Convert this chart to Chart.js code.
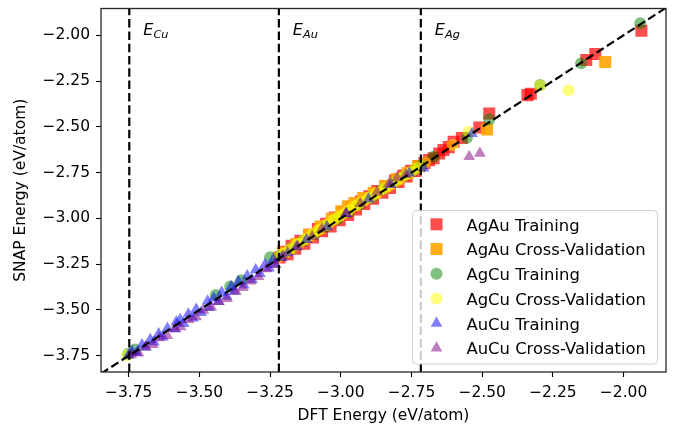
<!DOCTYPE html>
<html>
<head>
<meta charset="utf-8">
<script src="https://cdn.jsdelivr.net/npm/chart.js@4.4.1/dist/chart.umd.min.js"></script>
<style>
html, body { margin: 0; padding: 0; background: #fff; }
#wrap { width: 679px; height: 429px; }
</style>
</head>
<body>
<div id="wrap"><canvas id="myChart" width="679" height="429"></canvas></div>
<script>
// DFT (x) vs SNAP (y) energies, eV/atom
const agauTrainX = [-3.216,-3.203,-3.188,-3.174,-3.161,-3.143,-3.129,-3.112,-3.098,-3.081,-3.066,-3.052,-3.036,-3.021,-3.004,-2.991,-2.974,-2.962,-2.946,-2.929,-2.917,-2.899,-2.886,-2.871,-2.853,-2.842,-2.826,-2.808,-2.796,-2.779,-2.767,-2.752,-2.736,-2.723,-2.704,-2.688,-2.672,-2.652,-2.637,-2.618,-2.601,-2.572,-2.510,-2.475,-2.340,-2.328,-2.132,-2.100,-1.937];
const agauTrainY = [-3.214,-3.182,-3.196,-3.150,-3.166,-3.122,-3.138,-3.090,-3.104,-3.058,-3.070,-3.030,-3.044,-2.996,-3.010,-2.966,-2.982,-2.938,-2.952,-2.908,-2.922,-2.879,-2.893,-2.851,-2.860,-2.824,-2.834,-2.793,-2.802,-2.766,-2.772,-2.740,-2.742,-2.714,-2.698,-2.682,-2.672,-2.646,-2.627,-2.611,-2.582,-2.561,-2.504,-2.428,-2.327,-2.319,-2.135,-2.103,-1.976];

const agauCvX = [-3.205,-3.158,-3.112,-3.071,-3.032,-2.998,-2.975,-2.952,-2.921,-2.884,-2.842,-2.801,-2.763,-2.727,-2.483,-2.065];
const agauCvY = [-3.188,-3.140,-3.090,-3.045,-3.001,-2.961,-2.934,-2.916,-2.889,-2.862,-2.823,-2.785,-2.752,-2.716,-2.515,-2.146];

const agcuTrainX = [-3.752,-3.728,-3.442,-3.391,-3.352,-3.250,-3.212,-3.173,-3.134,-3.092,-3.053,-3.011,-2.972,-2.933,-2.891,-2.853,-2.812,-2.774,-2.741,-2.713,-2.672,-2.554,-2.475,-2.295,-2.150,-1.941];
const agcuTrainY = [-3.741,-3.716,-3.418,-3.372,-3.338,-3.212,-3.201,-3.163,-3.124,-3.086,-3.044,-3.003,-2.966,-2.926,-2.886,-2.843,-2.804,-2.768,-2.737,-2.708,-2.663,-2.560,-2.459,-2.272,-2.153,-1.935];

const agcuCvX = [-3.756,-3.222,-3.207,-3.197,-3.182,-3.172,-3.156,-3.147,-3.131,-3.122,-3.105,-3.095,-3.080,-3.070,-3.054,-3.045,-3.029,-3.019,-3.004,-2.994,-2.979,-2.969,-2.953,-2.943,-2.928,-2.918,-2.902,-2.893,-2.877,-2.867,-2.851,-2.842,-2.826,-2.816,-2.801,-2.791,-2.775,-2.766,-2.750,-2.740,-2.724,-2.702,-2.604,-2.548,-2.295,-2.195];
const agcuCvY = [-3.747,-3.214,-3.196,-3.191,-3.171,-3.163,-3.142,-3.139,-3.118,-3.112,-3.092,-3.081,-3.065,-3.058,-3.036,-3.033,-3.012,-3.004,-2.987,-2.981,-2.962,-2.955,-2.934,-2.930,-2.912,-2.906,-2.889,-2.884,-2.866,-2.859,-2.840,-2.834,-2.817,-2.808,-2.795,-2.783,-2.768,-2.759,-2.745,-2.733,-2.722,-2.695,-2.600,-2.527,-2.274,-2.301];

const aucuTrainX = [-3.751,-3.738,-3.722,-3.703,-3.691,-3.674,-3.661,-3.644,-3.629,-3.613,-3.582,-3.584,-3.568,-3.556,-3.539,-3.523,-3.511,-3.494,-3.471,-3.466,-3.449,-3.433,-3.421,-3.404,-3.388,-3.377,-3.362,-3.343,-3.331,-3.314,-3.301,-3.286,-3.268,-3.254,-3.239,-3.232,-3.209,-3.188,-3.157,-3.121,-3.049,-2.981,-2.902,-2.823,-2.758,-2.707,-2.536];
const aucuTrainY = [-3.748,-3.728,-3.735,-3.690,-3.705,-3.662,-3.676,-3.630,-3.648,-3.600,-3.566,-3.604,-3.552,-3.575,-3.522,-3.545,-3.496,-3.514,-3.452,-3.488,-3.436,-3.455,-3.404,-3.426,-3.372,-3.398,-3.345,-3.365,-3.314,-3.334,-3.281,-3.302,-3.252,-3.272,-3.224,-3.250,-3.214,-3.189,-3.155,-3.116,-3.045,-2.974,-2.895,-2.815,-2.754,-2.726,-2.537];

const aucuCvX = [-3.741,-3.716,-3.689,-3.664,-3.641,-3.614,-3.588,-3.566,-3.538,-3.512,-3.486,-3.458,-3.431,-3.402,-3.371,-3.346,-3.318,-3.291,-3.262,-3.231,-3.203,-3.152,-3.101,-3.067,-2.982,-2.931,-2.872,-2.831,-2.801,-2.771,-2.546,-2.508];
const aucuCvY = [-3.746,-3.735,-3.702,-3.690,-3.652,-3.640,-3.603,-3.592,-3.553,-3.538,-3.502,-3.485,-3.455,-3.438,-3.398,-3.378,-3.343,-3.318,-3.276,-3.252,-3.206,-3.154,-3.099,-3.058,-2.974,-2.919,-2.856,-2.812,-2.779,-2.761,-2.663,-2.645];

const seriesNames = ["AgAu Training", "AgAu Cross-Validation", "AgCu Training", "AgCu Cross-Validation", "AuCu Training", "AuCu Cross-Validation"];

const xTicks = [-3.75, -3.50, -3.25, -3.00, -2.75, -2.50, -2.25, -2.00];
const yTicks = [-3.75, -3.50, -3.25, -3.00, -2.75, -2.50, -2.25, -2.00];

// pure element reference energies (vertical lines)
const refEnergies = [-3.748, -3.219, -2.717];
const refNames = ["Cu", "Au", "Ag"];

const FONT = '"DejaVu Sans", Verdana, sans-serif';
Chart.defaults.font.family = FONT;
Chart.defaults.color = '#000';

function pairs(xs, ys) {
    return xs.map((v, i) => ({ x: v, y: ys[i] }));
}

const styles = [
    { color: 'rgba(255,0,0,0.7)', shape: 'rect', r: 8.5 },
    { color: 'rgba(255,165,0,0.9)', shape: 'rect', r: 8.5 },
    { color: 'rgba(0,128,0,0.5)', shape: 'circle', r: 6 },
    { color: 'rgba(255,255,0,0.5)', shape: 'circle', r: 6 },
    { color: 'rgba(0,0,255,0.5)', shape: 'triangle', r: 6.8 },
    { color: 'rgba(128,0,128,0.5)', shape: 'triangle', r: 6.8 }
];
const seriesData = [
    pairs(agauTrainX, agauTrainY),
    pairs(agauCvX, agauCvY),
    pairs(agcuTrainX, agcuTrainY),
    pairs(agcuCvX, agcuCvY),
    pairs(aucuTrainX, aucuTrainY),
    pairs(aucuCvX, aucuCvY)
];

const dataSets = seriesNames.map((name, i) => ({
    label: name,
    data: seriesData[i],
    order: 6 - i,   // first series at the bottom, like matplotlib
    pointStyle: styles[i].shape,
    pointRadius: styles[i].r,
    pointHoverRadius: styles[i].r,
    backgroundColor: styles[i].color,
    borderColor: styles[i].color,
    borderWidth: 0
}));

function minusFmt(v) {
    return (v < 0 ? '\u2212' : '') + Math.abs(v).toFixed(2);
}

function drawMarker(ctx, shape, x, y, r, color) {
    ctx.fillStyle = color;
    ctx.beginPath();
    if (shape === 'rect') {
        const s = r / Math.SQRT2;
        ctx.rect(x - s, y - s, 2 * s, 2 * s);
    } else if (shape === 'circle') {
        ctx.arc(x, y, r, 0, Math.PI * 2);
    } else {
        ctx.moveTo(x, y - r);
        ctx.lineTo(x + r * 0.866, y + r * 0.5);
        ctx.lineTo(x - r * 0.866, y + r * 0.5);
        ctx.closePath();
    }
    ctx.fill();
}

const overlay = {
    id: 'overlay',
    afterDatasetsDraw(chart) {
        const { ctx, chartArea: a, scales: { x, y } } = chart;
        ctx.save();
        ctx.beginPath();
        ctx.rect(a.left, a.top, a.right - a.left, a.bottom - a.top);
        ctx.clip();
        ctx.strokeStyle = '#000';
        ctx.lineWidth = 2.2;
        ctx.setLineDash([8.5, 3.8]);
        refEnergies.forEach(e => {
            const px = x.getPixelForValue(e);
            ctx.beginPath();
            ctx.moveTo(px, a.bottom);
            ctx.lineTo(px, a.top);
            ctx.stroke();
        });
        // y = x parity line
        const lo = Math.min(x.min, y.min), hi = Math.max(x.max, y.max);
        ctx.beginPath();
        ctx.moveTo(x.getPixelForValue(lo), y.getPixelForValue(lo));
        ctx.lineTo(x.getPixelForValue(hi), y.getPixelForValue(hi));
        ctx.stroke();
        ctx.restore();

        // E_X labels
        ctx.save();
        ctx.fillStyle = '#000';
        ctx.textBaseline = 'alphabetic';
        refEnergies.forEach((e, i) => {
            const px = x.getPixelForValue(e) + 14;
            const base = a.top + 26;
            ctx.font = 'italic 16px ' + FONT;
            ctx.fillText('E', px, base);
            const w = ctx.measureText('E').width;
            ctx.font = 'italic 11.3px ' + FONT;
            ctx.fillText(refNames[i], px + w, base + 3.5);
        });
        ctx.restore();

        // frame (all four spines)
        ctx.save();
        ctx.strokeStyle = '#262626';
        ctx.lineWidth = 1.3;
        ctx.strokeRect(a.left, a.top, a.right - a.left, a.bottom - a.top);
        ctx.restore();
    },
    afterDraw(chart) {
        const { ctx, chartArea: a } = chart;
        const w = 245, h = 153.5;
        const left = a.right - 8.5 - w, top = a.bottom - 8 - h;
        ctx.save();
        ctx.beginPath();
        ctx.roundRect(left, top, w, h, 4);
        ctx.fillStyle = 'rgba(255,255,255,0.8)';
        ctx.fill();
        ctx.strokeStyle = '#d0d0d0';
        ctx.lineWidth = 1;
        ctx.stroke();
        ctx.font = '16.4px ' + FONT;
        ctx.textBaseline = 'alphabetic';
        seriesNames.forEach((name, i) => {
            const cy = top + 13.8 + i * 24.75;
            drawMarker(ctx, styles[i].shape, left + 24, cy, styles[i].r, styles[i].color);
            ctx.fillStyle = '#000';
            ctx.fillText(name, left + 54, cy + 6.3);
        });
        ctx.restore();
    }
};

const config = {
    type: 'scatter',
    data: { datasets: dataSets },
    options: {
        responsive: false,
        animation: false,
        events: [],
        layout: { padding: { left: 0, top: 6, right: 13, bottom: 0 } },
        plugins: { legend: { display: false }, tooltip: { enabled: false } },
        scales: {
            x: {
                min: -3.848,
                max: -1.850,
                afterBuildTicks: s => { s.ticks = xTicks.map(v => ({ value: v })); },
                afterFit: s => { s.height = 57; s.paddingLeft = 0; s.paddingRight = 0; },
                grid: { drawOnChartArea: false, tickLength: 5, tickColor: '#000', tickWidth: 1.1 },
                border: { display: false },
                ticks: { font: { size: 15.5 }, padding: 7, maxRotation: 0, callback: v => minusFmt(v) },
                title: { display: true, text: 'DFT Energy (eV/atom)', font: { size: 15.5 }, padding: { top: 0, bottom: 4 } }
            },
            y: {
                min: -3.839,
                max: -1.854,
                afterBuildTicks: s => { s.ticks = yTicks.map(v => ({ value: v })); },
                afterFit: s => { s.width = 101; s.paddingTop = 0; s.paddingBottom = 0; },
                grid: { drawOnChartArea: false, tickLength: 5, tickColor: '#000', tickWidth: 1.1 },
                border: { display: false },
                ticks: { font: { size: 15.5 }, padding: 6, callback: v => minusFmt(v) },
                title: { display: true, text: 'SNAP Energy (eV/atom)', font: { size: 15.5 }, padding: { top: 12, bottom: 0 } }
            }
        }
    },
    plugins: [overlay]
};

const myChart = new Chart(document.getElementById('myChart'), config);
</script>
</body>
</html>
